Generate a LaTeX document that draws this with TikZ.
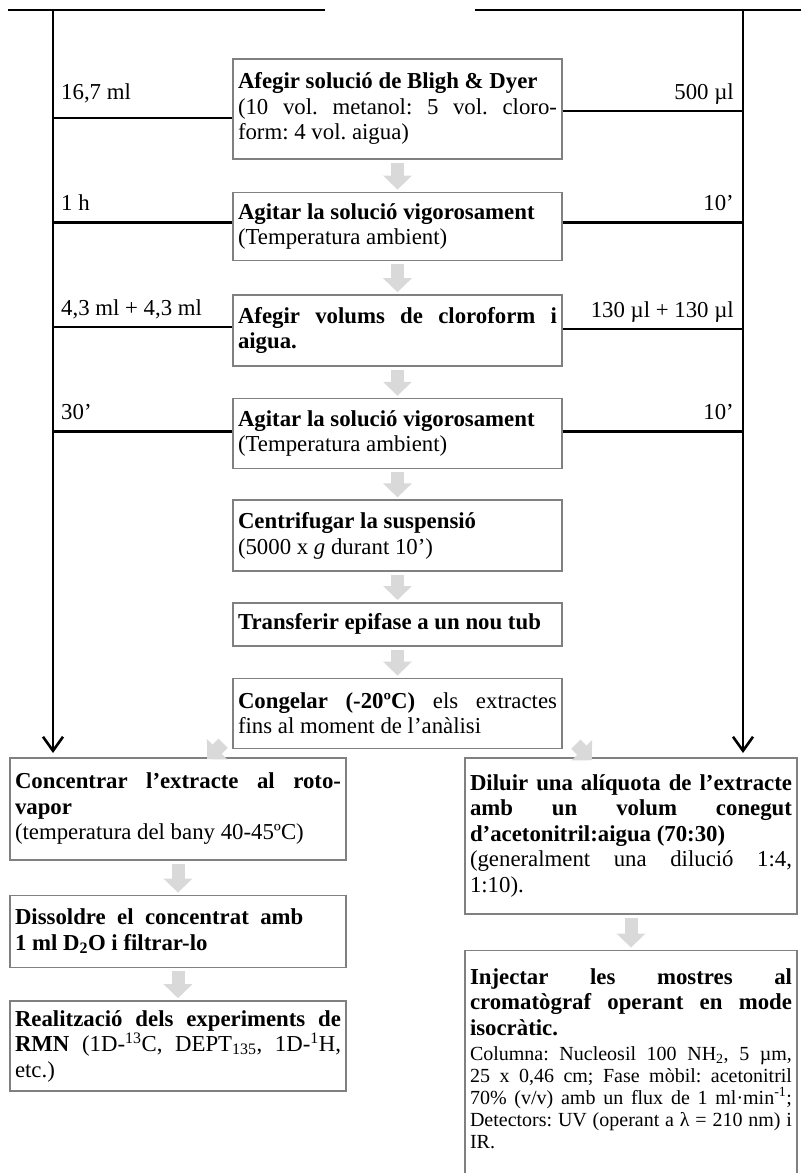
\documentclass[tikz,border=0pt]{standalone}
\usepackage{fontspec}
\setmainfont{Liberation Serif}
\usetikzlibrary{arrows.meta,positioning}
\tolerance=10000
\hbadness=10000
\frenchspacing

\begin{document}
\begin{tikzpicture}[
    x=1pt, y=-1pt,
    node distance=31pt,
    font=\fontsize{22.8pt}{25.5pt}\selectfont\frenchspacing,
    % Styles
    stepbox/.style={rectangle, draw=black!50, line width=1.6pt, fill=white, inner xsep=5pt, inner ysep=0pt, align=justify, anchor=north},
    midbox/.style={stepbox, text width=319pt},
    leftbox/.style={stepbox, text width=326pt},
    rightbox/.style={stepbox, text width=322pt},
    qty/.style={inner sep=0pt},
    flowline/.style={-, line width=2.6pt, draw=black},
    mainarrow/.style={flowline, -{Straight Barb[width=20pt,length=14pt]}, shorten >=4pt},
    grayarrow/.style={draw=black!15, line width=13pt, -{Triangle[width=28pt,length=14pt]}, shorten <=3pt, shorten >=2pt}
]
\useasboundingbox (0,0) rectangle (801,1173);
\clip (0,0) rectangle (801,1173);

% --- Header rules and side columns ---
\coordinate (hl1) at (8,10);
\coordinate (hl2) at (325,10);
\coordinate (hr1) at (475,10);
\coordinate (hr2) at (801,10);
\coordinate (lefttop) at (53,10);
\coordinate (righttop) at (743,10);

% --- Central chain ---
\node[midbox, minimum height=100pt] (afegir) at (397.5,58) {\textbf{Afegir solució de Bligh \& Dyer}\\(10 vol. metanol: 5 vol. cloro-\linebreak form: 4 vol. aigua)};
\node[midbox, minimum height=68pt, below=32pt of afegir] (agitar) {\textbf{Agitar la solució vigorosament}\\(Temperatura ambient)};
\node[midbox, minimum height=71pt, below=33pt of agitar] (volums) {\textbf{Afegir volums de cloroform i\linebreak aigua.}};
\node[midbox, minimum height=70pt, below=of volums] (agitarb) {\textbf{Agitar la solució vigorosament}\\(Temperatura ambient)};
\node[midbox, minimum height=71pt, below=30pt of agitarb] (centrif) {\textbf{Centrifugar la suspensió}\\(5000 x \textit{g} durant 10’)};
\node[midbox, minimum height=43pt, below=30pt of centrif] (transf) {\textbf{Transferir epifase a un nou tub}};
\node[midbox, minimum height=70pt, below=of transf] (congelar) {\textbf{Congelar (-20ºC)} els extractes\linebreak fins al moment de l’anàlisi};

% --- Left branch ---
\node[leftbox, minimum height=102pt] (concentrar) at (178,757) {\textbf{Concentrar l’extracte al roto-\linebreak vapor}\\(temperatura del bany 40-45ºC)};
\node[leftbox, minimum height=72pt, below=34pt of concentrar] (dissoldre) {\textbf{Dissoldre\enspace el\enspace concentrat\enspace amb\\1 ml D\textsubscript{2}O i filtrar-lo}};
\node[leftbox, minimum height=90pt, below=32pt of dissoldre] (rmn) {\textbf{Realització dels experiments de\linebreak RMN} (1D-\textsuperscript{13}C, DEPT\textsubscript{135}, 1D-\textsuperscript{1}H,\linebreak etc.)};

% --- Right branch ---
\node[rightbox, minimum height=156pt] (diluir) at (631,757) {\textbf{Diluir una alíquota de l’extracte\linebreak amb un volum conegut\linebreak d’acetonitril:aigua (70:30)}\\(generalment una dilució 1:4,\linebreak 1:10).};
\node[rightbox, inner ysep=18pt, text depth=190pt, below=35pt of diluir] (injectar) {\textbf{Injectar les mostres al\linebreak cromatògraf operant en mode\linebreak isocràtic.}\par\vspace{3pt}{\fontsize{20pt}{22pt}\selectfont Columna: Nucleosil 100 NH\textsubscript{2}, 5 µm,\linebreak 25 x 0,46 cm; Fase mòbil: acetonitril\linebreak 70\% (v/v) amb un flux de 1 ml·min\textsuperscript{-1};\linebreak Detectors: UV (operant a λ = 210 nm) i\linebreak IR.\par}};

% --- Row anchors ---
\coordinate (r1l) at ([yshift=-9pt]afegir.west);
\coordinate (r1r) at ([yshift=-2pt]afegir.east);
\coordinate (r2l) at ([yshift=4pt]agitar.west);
\coordinate (r2r) at ([yshift=4pt]agitar.east);
\coordinate (r3l) at ([yshift=3.5pt]volums.west);
\coordinate (r3r) at ([yshift=1.5pt]volums.east);
\coordinate (r4l) at ([yshift=2pt]agitarb.west);
\coordinate (r4r) at ([yshift=2pt]agitarb.east);

% --- Quantities ---
\node[qty, anchor=base west, xshift=8pt, yshift=18pt] (q1l) at (r1l -| lefttop) {16,7 ml};
\node[qty, anchor=base east, xshift=-9pt, yshift=11pt] (q1r) at (r1r -| righttop) {500 µl};
\node[qty, anchor=base west, xshift=8pt, yshift=12pt] (q2l) at (r2l -| lefttop) {1 h};
\node[qty, anchor=base east, xshift=-9pt, yshift=12pt] (q2r) at (r2r -| righttop) {10’};
\node[qty, anchor=base west, xshift=8pt, yshift=12pt] (q3l) at (r3l -| lefttop) {4,3 ml + 4,3 ml};
\node[qty, anchor=base east, xshift=-9pt, yshift=12pt] (q3r) at (r3r -| righttop) {130 µl + 130 µl};
\node[qty, anchor=base west, xshift=8pt, yshift=12pt] (q4l) at (r4l -| lefttop) {30’};
\node[qty, anchor=base east, xshift=-9pt, yshift=12pt] (q4r) at (r4r -| righttop) {10’};

% --- Connections ---
\draw[flowline] (hl1) -- (hl2);
\draw[flowline] (hr1) -- (hr2);
\draw[mainarrow] (lefttop) -- (lefttop |- concentrar.north);
\draw[mainarrow] (righttop) -- (righttop |- diluir.north);

\draw[flowline] (r1l -| lefttop) -- (r1l);
\draw[flowline] (r1r) -- (r1r -| righttop);
\draw[flowline] (r2l -| lefttop) -- (r2l);
\draw[flowline] (r2r) -- (r2r -| righttop);
\draw[flowline] (r3l -| lefttop) -- (r3l);
\draw[flowline] (r3r) -- (r3r -| righttop);
\draw[flowline] (r4l -| lefttop) -- (r4l);
\draw[flowline] (r4r) -- (r4r -| righttop);

% Central flow
\draw[grayarrow] (afegir) -- (agitar);
\draw[grayarrow] (agitar) -- (volums);
\draw[grayarrow] (volums) -- (agitarb);
\draw[grayarrow] (agitarb) -- (centrif);
\draw[grayarrow] (centrif) -- (transf);
\draw[grayarrow] (transf) -- (congelar);

% Split
\coordinate (dltail) at ([xshift=-9pt,yshift=6pt]congelar.south west);
\coordinate (dltip) at ([xshift=-25pt,yshift=-10pt]congelar.south west);
\coordinate (drtail) at ([xshift=13pt,yshift=5pt]congelar.south east);
\coordinate (drtip) at ([xshift=29pt,yshift=-11pt]congelar.south east);
\draw[grayarrow, shorten <=0pt, shorten >=0pt] (dltail) -- (dltip);
\draw[grayarrow, shorten <=0pt, shorten >=0pt] (drtail) -- (drtip);

% Branch flows
\draw[grayarrow] (concentrar) -- (dissoldre);
\draw[grayarrow] (dissoldre) -- (rmn);
\draw[grayarrow] (diluir) -- (injectar);

\end{tikzpicture}
\end{document}
